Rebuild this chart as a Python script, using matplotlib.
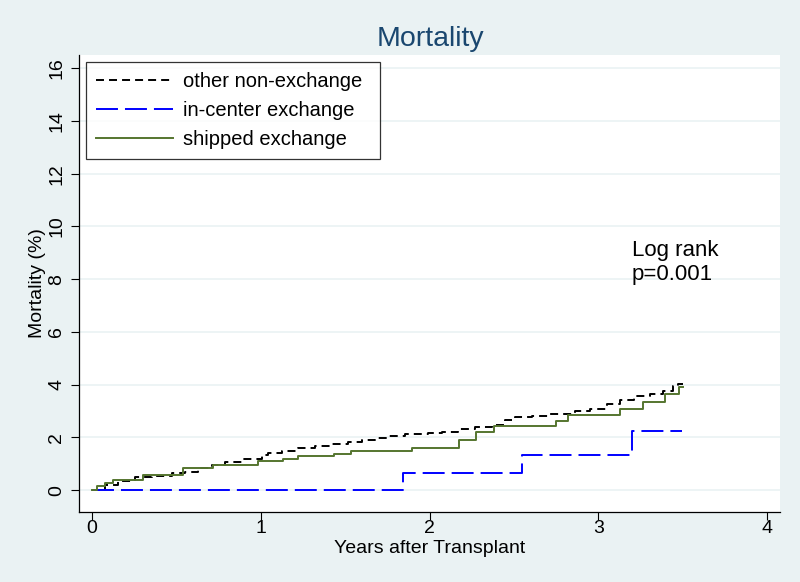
import matplotlib

matplotlib.use("Agg")
import matplotlib.pyplot as plt

# Kaplan-Meier style cumulative mortality (years, %)
other_t = [0.0, 0.077, 0.154, 0.255, 0.354, 0.472, 0.551, 0.628, 0.709, 0.788,
           0.887, 1.006, 1.045, 1.124, 1.223, 1.321, 1.420, 1.519, 1.598, 1.677,
           1.756, 1.855, 1.993, 2.072, 2.171, 2.270, 2.369, 2.447, 2.507, 2.606,
           2.704, 2.803, 2.862, 2.951, 3.050, 3.129, 3.209, 3.307, 3.386, 3.445,
           3.475, 3.500]
other_y = [0.0, 0.20, 0.35, 0.48, 0.54, 0.63, 0.69, 0.82, 0.94, 1.07,
           1.17, 1.32, 1.40, 1.50, 1.59, 1.67, 1.75, 1.84, 1.90, 1.98,
           2.07, 2.13, 2.15, 2.22, 2.32, 2.38, 2.47, 2.66, 2.76, 2.81,
           2.88, 2.90, 3.01, 3.09, 3.25, 3.40, 3.57, 3.63, 3.76, 3.95,
           4.01, 4.01]

incenter_t = [0.0, 1.843, 2.546, 3.202, 3.494]
incenter_y = [0.0, 0.63, 1.35, 2.24, 2.24]

shipped_t = [0.0, 0.028, 0.077, 0.124, 0.304, 0.539, 0.717, 0.984, 1.134, 1.223,
             1.436, 1.533, 1.895, 2.175, 2.276, 2.384, 2.750, 2.818, 3.129, 3.263,
             3.396, 3.480, 3.500]
shipped_y = [0.0, 0.15, 0.27, 0.40, 0.56, 0.84, 0.97, 1.10, 1.18, 1.28,
             1.38, 1.49, 1.61, 1.90, 2.22, 2.42, 2.61, 2.85, 3.07, 3.34,
             3.63, 3.92, 3.92]

labels = ["other non-exchange", "in-center exchange", "shipped exchange"]
x_ticks = [0, 1, 2, 3, 4]
y_ticks = [0, 2, 4, 6, 8, 10, 12, 14, 16]

BG = "#EAF2F3"
plt.rcParams["font.family"] = ["Liberation Sans", "DejaVu Sans"]

fig = plt.figure(figsize=(8.0, 5.82), dpi=100, facecolor=BG)
ax = fig.add_axes([79 / 800, 1 - 512 / 582, 701 / 800, 457 / 582])
ax.set_facecolor("white")

for y in y_ticks:
    ax.axhline(y, color=BG, lw=1.2, zorder=0)

lw = 1.4
ax.step(other_t, other_y, where="post", color="black", lw=lw,
        dashes=(4.1, 2.6), label=labels[0])
ax.step(incenter_t, incenter_y, where="post", color="#0000FF", lw=lw,
        dashes=(11.3, 3.6), label=labels[1])
ax.step(shipped_t, shipped_y, where="post", color="#55752F", lw=lw,
        label=labels[2])

ax.set_xlim(-0.077, 4.077)
ax.set_ylim(-0.83, 16.5)
ax.set_xticks(x_ticks)
ax.set_yticks(y_ticks)
ax.tick_params(direction="out", length=6, width=0.8, labelsize=14)
ax.tick_params(axis="x", pad=0)
ax.tick_params(axis="y", pad=4)
for lab in ax.get_yticklabels():
    lab.set_rotation(90)
    lab.set_va("center")

for side in ("top", "right"):
    ax.spines[side].set_visible(False)
for side in ("left", "bottom"):
    ax.spines[side].set_linewidth(0.9)

ax.set_xlabel("Years after Transplant", fontsize=14, labelpad=2)
ax.set_ylabel("Mortality (%)", fontsize=14, labelpad=1.5)
fig.text(0.5375, 1 - 39 / 582, "Mortality", ha="center", va="center",
         fontsize=20.5, color="#1A476F")

ax.text(3.198, 9.47, "Log rank\np=0.001", fontsize=16, ha="left", va="top",
        linespacing=1.15)

# legend box pinned to the reference frame (86..380 px wide)
leg = ax.legend(loc="upper left",
                bbox_to_anchor=(86 / 800, 1 - 157 / 582, 294 / 800, 95 / 582),
                bbox_transform=fig.transFigure, mode="expand", borderaxespad=0,
                fontsize=14.5, frameon=True, fancybox=False, edgecolor="black",
                handlelength=3.8, handletextpad=0.5, labelspacing=0.5,
                borderpad=0.5)
leg.get_frame().set_linewidth(0.9)

fig.savefig("out.png", dpi=100, facecolor=BG)
